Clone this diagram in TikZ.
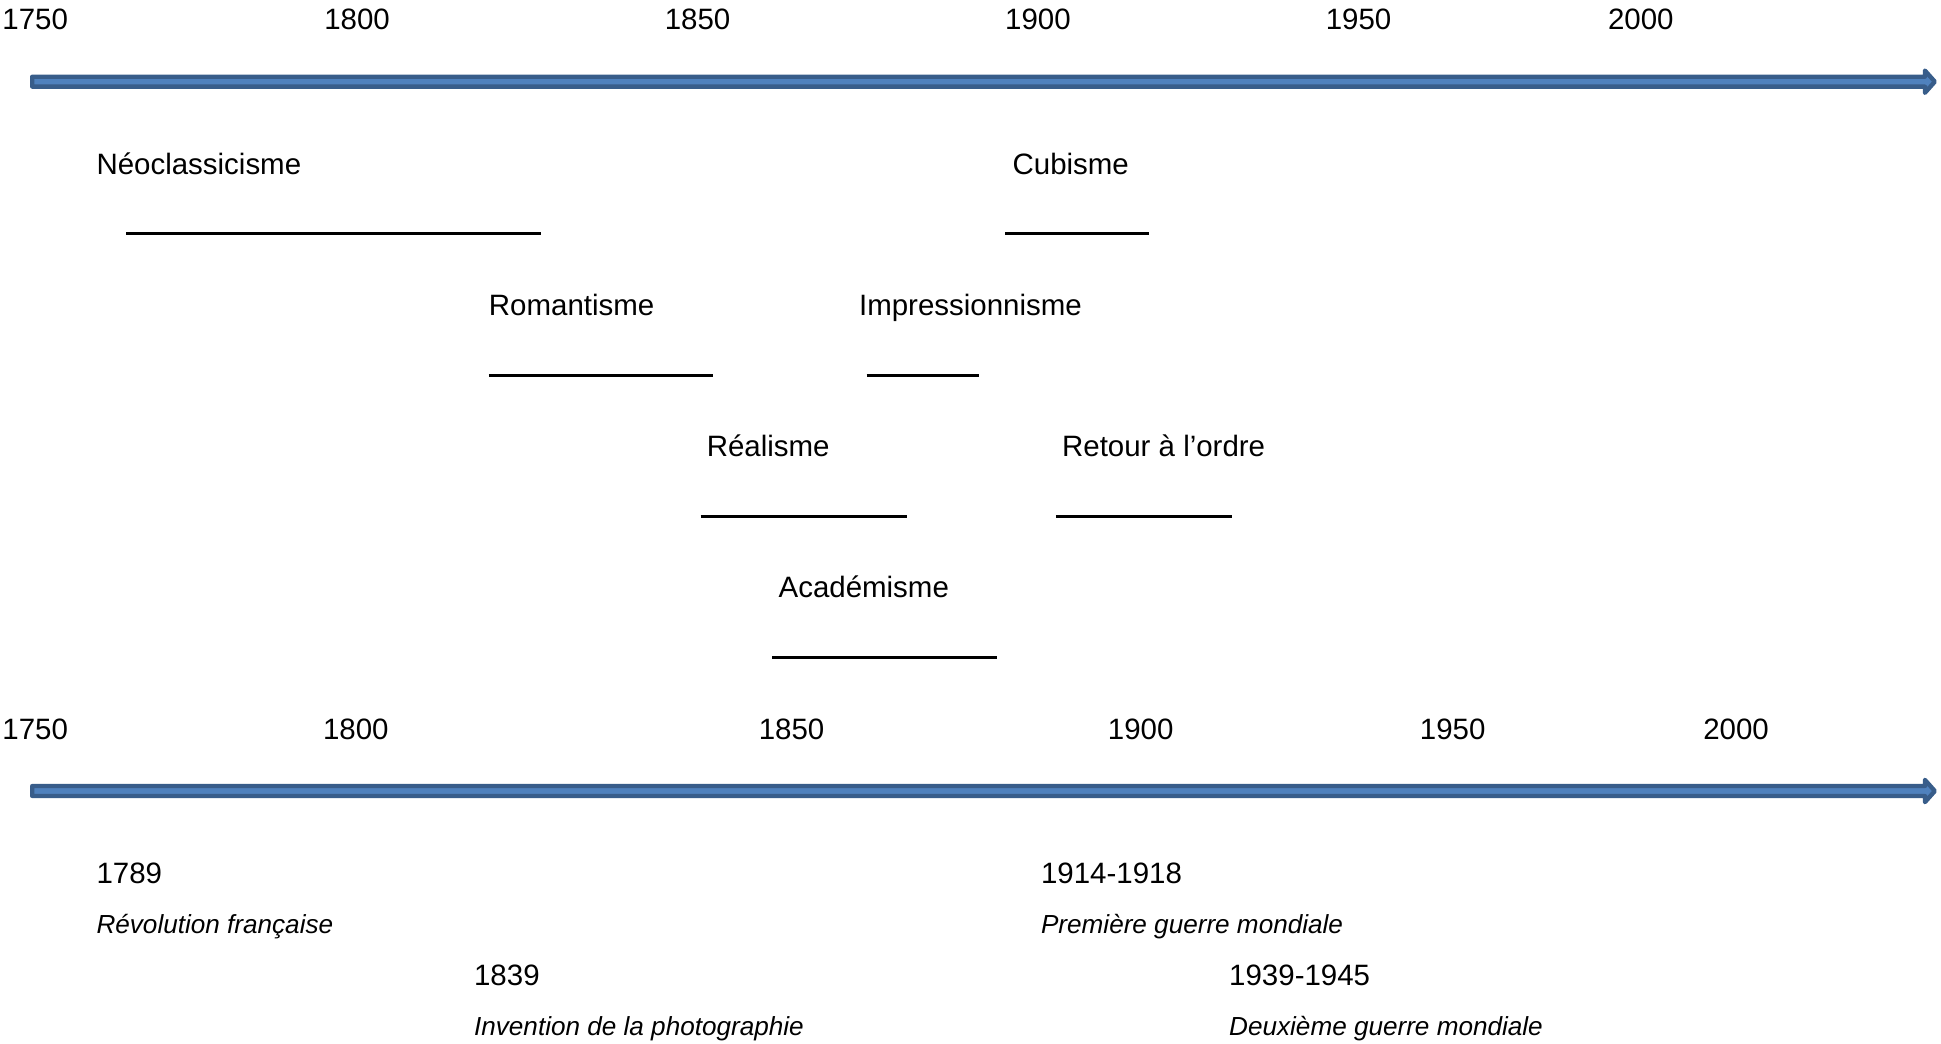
\documentclass[tikz,border=0pt]{standalone}
\usepackage{fontspec}
\setmainfont{Liberation Sans}
\definecolor{arrfill}{HTML}{4F81BD}
\definecolor{arrline}{HTML}{385D8A}
\tikzset{
  lbl/.style={anchor=base west, inner sep=0pt, outer sep=0pt, font=\fontsize{23.8}{28}\selectfont},
  evt/.style={anchor=base west, inner sep=0pt, outer sep=0pt, font=\fontsize{21.1}{25}\selectfont\itshape},
  period/.style={line width=2.4pt, black},
  tarrow/.style={fill=arrfill, draw=arrline, line width=3.5pt, line join=round},
}
\begin{document}
\begin{tikzpicture}[x=1pt,y=-1pt]
\useasboundingbox (0,0) rectangle (1568,843);

% top time arrow
\draw[tarrow] (26,62) -- (1555,62) -- (1555,57) -- (1563,66) -- (1555,75) -- (1555,70) -- (26,70) -- cycle;
% bottom time arrow
\draw[tarrow] (26,635) -- (1555,635) -- (1555,630) -- (1563,639) -- (1555,648) -- (1555,643) -- (26,643) -- cycle;

% top year labels
\node[lbl] (t1750) at (2,23.5) {1750};
\node[lbl] (t1800) at (262,23.5) {1800};
\node[lbl] (t1850) at (537,23.5) {1850};
\node[lbl] (t1900) at (812,23.5) {1900};
\node[lbl] (t1950) at (1071,23.5) {1950};
\node[lbl] (t2000) at (1299,23.5) {2000};

% movements
\node[lbl] (neo) at (78,141) {Néoclassicisme};
\draw[period] (102,189) -- (437,189);
\node[lbl] (cub) at (818,141) {Cubisme};
\draw[period] (812,189) -- (928,189);
\node[lbl] (rom) at (395,255) {Romantisme};
\draw[period] (395,303) -- (576,303);
\node[lbl] (imp) at (694,255) {Impressionnisme};
\draw[period] (700,303) -- (791,303);
\node[lbl] (rea) at (571,369) {Réalisme};
\draw[period] (566,417) -- (733,417);
\node[lbl] (ret) at (858,369) {Retour à l’ordre};
\draw[period] (853,417) -- (995,417);
\node[lbl] (aca) at (629,483) {Académisme};
\draw[period] (624,531) -- (805,531);

% bottom year labels
\node[lbl] (b1750) at (2,597) {1750};
\node[lbl] (b1800) at (261,597) {1800};
\node[lbl] (b1850) at (613,597) {1850};
\node[lbl] (b1900) at (895,597) {1900};
\node[lbl] (b1950) at (1147,597) {1950};
\node[lbl] (b2000) at (1376,597) {2000};

% events
\node[lbl] (e1789) at (78,714) {1789};
\node[evt] (d1789) at (78,754.5) {Révolution française};
\node[lbl] (e1839) at (383,796) {1839};
\node[evt] (d1839) at (383,836.5) {Invention de la photographie};
\node[lbl] (e1914) at (841,714) {1914-1918};
\node[evt] (d1914) at (841,754.5) {Première guerre mondiale};
\node[lbl] (e1939) at (993,796) {1939-1945};
\node[evt] (d1939) at (993,836.5) {Deuxième guerre mondiale};
\end{tikzpicture}
\end{document}
